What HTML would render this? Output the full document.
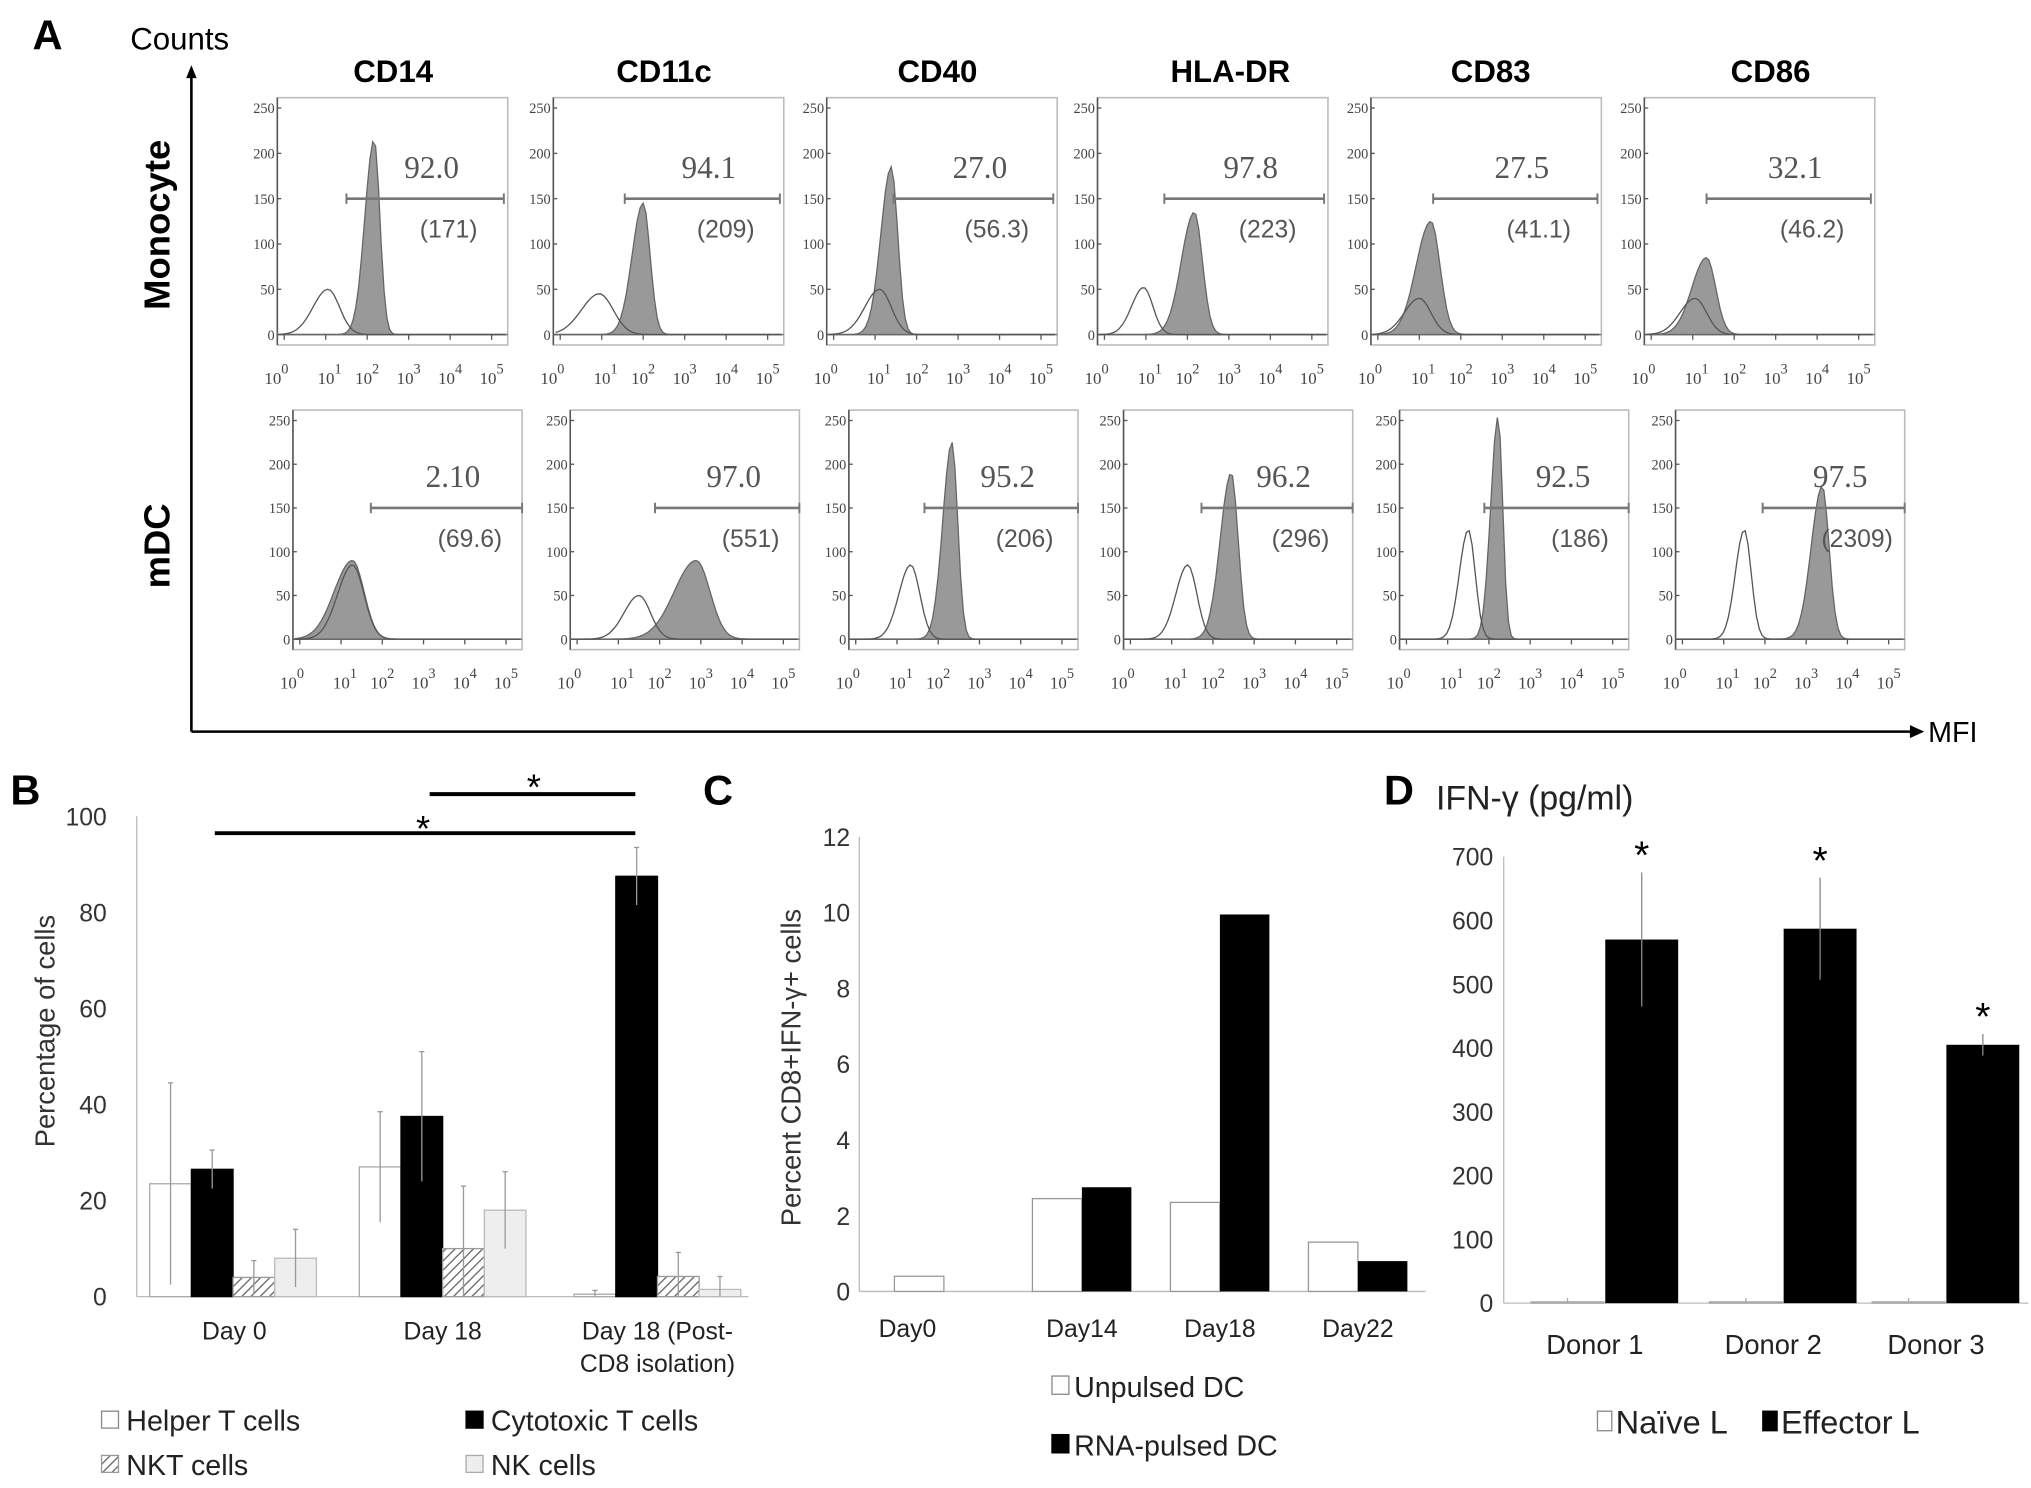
<!DOCTYPE html>
<html><head><meta charset="utf-8"><style>
html,body{margin:0;padding:0;background:#fff;}
svg{display:block;}
text{font-family:"Liberation Sans",sans-serif;}
.ser{font-family:"Liberation Serif",serif;}
</style></head><body>
<svg id="fig" xmlns="http://www.w3.org/2000/svg" width="2031" height="1488" viewBox="0 0 1560 1143" preserveAspectRatio="none">
<g id="pA">
<text x="25" y="38" font-size="32" font-weight="bold">A</text>
<text x="100" y="38" font-size="24">Counts</text>
<line x1="147" y1="562" x2="147" y2="58" stroke="#000" stroke-width="2"/>
<polygon points="147,50 143,60 151,60" fill="#000"/>
<line x1="147" y1="562" x2="1468" y2="562" stroke="#000" stroke-width="2"/>
<polygon points="1478,562 1467,557 1467,567" fill="#000"/>
<text x="1481" y="570" font-size="22">MFI</text>
<text x="0" y="0" font-size="28" font-weight="bold" transform="translate(130,238) rotate(-90)">Monocyte</text>
<text x="0" y="0" font-size="28" font-weight="bold" transform="translate(130,452) rotate(-90)">mDC</text>
</g>
<g id="pB"></g>
<g id="pC"></g>
<g id="pD"></g>
</svg>
<script>
const NS="http://www.w3.org/2000/svg";
// ---- Panel A data ----
const markers=["CD14","CD11c","CD40","HLA-DR","CD83","CD86"];
const pctRow1=["92.0","94.1","27.0","97.8","27.5","32.1"];
const mfiRow1=["(171)","(209)","(56.3)","(223)","(41.1)","(46.2)"];
const pctRow2=["2.10","97.0","95.2","96.2","92.5","97.5"];
const mfiRow2=["(69.6)","(551)","(206)","(296)","(186)","(2309)"];
// stained peak [position fraction, height counts, width]
const stainRow1=[[0.42,215,0.025],[0.39,145,0.03],[0.28,185,0.028],[0.42,135,0.035],[0.26,125,0.04],[0.27,85,0.04]];
const isoRow1=[[0.22,50,0.05],[0.2,45,0.06],[0.23,50,0.05],[0.2,52,0.04],[0.21,40,0.05],[0.22,40,0.05]];
const stainRow2=[[0.26,90,0.05],[0.55,90,0.06],[0.45,225,0.025],[0.47,190,0.03],[0.43,255,0.02],[0.64,175,0.03]];
const isoRow2=[[0.26,85,0.05],[0.3,50,0.05],[0.27,85,0.04],[0.28,85,0.04],[0.3,125,0.03],[0.3,125,0.03]];
const gateStartRow1=[0.30,0.31,0.29,0.29,0.27,0.27];
const gateStartRow2=[0.34,0.37,0.33,0.34,0.37,0.38];
const boxXRow1=[213,425,635,843,1053,1263];
const boxXRow2=[225,438,652,863,1075,1287];
const headerX=[302,510,720,945,1145,1360];
const yTicks=[0,50,100,150,200,250];
const decades=[0,1,2,3,4,5];

function el(tag,attrs,parent,txt){const e=document.createElementNS(NS,tag);for(const k in attrs)e.setAttribute(k,attrs[k]);if(txt!==undefined)e.textContent=txt;parent.appendChild(e);return e;}
const pA=document.getElementById('pA');
markers.forEach((m,i)=>{
 const t=el('text',{x:headerX[i],y:63,'font-size':24,'font-weight':'bold','text-anchor':'middle'},pA,m);
 
 
});
function histo(bx,by,bw,bh,idx,stain,iso,pct,mfi,gs,row){
 const g=el('g',{},pA);
 
 
 const y0=by+bh-8, ytop=by+8;
 const ys=c=>y0-(c/250)*(y0-ytop);
 const xs=f=>bx+f*bw;
 const b=el('rect',{x:bx,y:by,width:bw,height:bh,fill:'#fff',stroke:'#bbb','stroke-width':1.2},g);
 
 el('line',{x1:bx,y1:by,x2:bx,y2:by+bh,stroke:'#555','stroke-width':1.2},g);
 el('line',{x1:bx,y1:y0,x2:bx+bw,y2:y0,stroke:'#777','stroke-width':1.2},g);
 yTicks.forEach(v=>{const t=el('text',{x:bx-2,y:ys(v)+4,'font-size':11,'text-anchor':'end',fill:'#444',class:'ser'},g,String(v));
  
  el('line',{x1:bx,x2:bx+3,y1:ys(v),y2:ys(v),stroke:'#555'},g);});
 decades.forEach(d=>{const fx=xs(0.03+d*0.18);
  el('line',{x1:fx,x2:fx,y1:y0,y2:y0+4,stroke:'#555'},g);
  const t=el('text',{x:fx+(d==0?-6:d==1?3:0),y:by+bh+30,'font-size':13,'text-anchor':'middle',fill:'#444',class:'ser'},g);
  
  t.textContent='10';const s=el('tspan',{dy:-8,'font-size':11},t,String(d));});
 function path(p,skew){let d='';const n=80;for(let k=0;k<=n;k++){const f=k/n*0.98+0.01;let dx=(f-p[0]);let w=dx<0?p[2]*(skew?1.6:1.3):p[2];let c=p[1]*Math.exp(-dx*dx/(2*w*w));d+=(k?'L':'M')+xs(f).toFixed(1)+','+ys(c).toFixed(1);}return d;}
 const sp=el('path',{d:path(stain,true)+'L'+xs(0.99)+','+y0+'L'+xs(0.01)+','+y0+'Z',fill:'#999',stroke:'#666','stroke-width':1},g);
 
 const ip=el('path',{d:path(iso,false),fill:'none',stroke:'#555','stroke-width':1},g);
 
 const gy=ys(150), gx1=xs(gs), gx2=bx+bw-(row=='r1'?3:0);
 const gl=el('line',{x1:gx1,x2:gx2,y1:gy,y2:gy,stroke:'#777','stroke-width':2},g);
 
 el('line',{x1:gx1,x2:gx1,y1:gy-4,y2:gy+4,stroke:'#777','stroke-width':1.5},g);
 el('line',{x1:gx2,x2:gx2,y1:gy-4,y2:gy+4,stroke:'#777','stroke-width':1.5},g);
 const pt=el('text',{x:(gx1+gx2)/2+5,y:gy-16,'font-size':24,'text-anchor':'middle',fill:'#555',class:'ser'},g,pct);
 
 const mt=el('text',{x:(gx1+gx2)/2+18,y:gy+30,'font-size':19,'text-anchor':'middle',fill:'#555'},g,mfi);
 
}
for(let i=0;i<6;i++){
 histo(boxXRow1[i],75,177,190,i,stainRow1[i],isoRow1[i],pctRow1[i],mfiRow1[i],gateStartRow1[i],'r1');
 histo(boxXRow2[i],315,176,184,i,stainRow2[i],isoRow2[i],pctRow2[i],mfiRow2[i],gateStartRow2[i],'r2');
}

// ---- Panel B data ----
const bCategories=["Day 0","Day 18","Day 18 (Post-"];
const bSeries=["Helper T cells","Cytotoxic T cells","NKT cells","NK cells"];
const bHelper=[23.5,27,0.5];
const bCyto=[26.5,37.5,87.5];
const bNKT=[4,10,4.2];
const bNK=[8,18,1.5];
const bHelperErr=[21,11.5,0.8];
const bCytoErr=[4,13.5,6];
const bNKTErr=[3.5,13,5];
const bNKErr=[6,8,2.7];
const bTicks=[0,20,40,60,80,100];

// ---- Panel C data ----
const cCategories=["Day0","Day14","Day18","Day22"];
const cUnpulsed=[0.4,2.45,2.35,1.3];
const cPulsed=[0,2.75,9.95,0.8];
const cTicks=[0,2,4,6,8,10,12];

// ---- Panel D data ----
const dCategories=["Donor 1","Donor 2","Donor 3"];
const dNaive=[2,2,2];
const dEffector=[570,587,405];
const dNaiveErr=[6,6,6];
const dEffectorErr=[105,80,17];
const dTicks=[0,100,200,300,400,500,600,700];

// Panel B
(function(){
 const g=document.getElementById('pB');
 const yB=v=>996-v*3.69;
 const centers=[180,340,505];
 const lab=el('text',{x:8,y:618,'font-size':32,'font-weight':'bold'},g,'B');
 
 el('line',{x1:105,y1:yB(100),x2:105,y2:996,stroke:'#bbb'},g);
 el('line',{x1:105,y1:996,x2:575,y2:996,stroke:'#bbb'},g);
 bTicks.forEach(v=>{const t=el('text',{x:82,y:yB(v)+7,'font-size':19,'text-anchor':'end',fill:'#333'},g,String(v));
  });
 const yl=el('text',{x:0,y:0,'font-size':21,'text-anchor':'middle',transform:'translate(42,792) rotate(-90)',fill:'#333'},g,'Percentage of cells');
 
 el('defs',{},g).innerHTML='<pattern id="hatch" width="5" height="5" patternUnits="userSpaceOnUse" patternTransform="rotate(45)"><rect width="5" height="5" fill="#fff"/><line x1="0" y1="0" x2="0" y2="5" stroke="#666" stroke-width="2"/></pattern>';
 const vals=[bHelper,bCyto,bNKT,bNK], errs=[bHelperErr,bCytoErr,bNKTErr,bNKErr];
 const fills=['#fff','#000','url(#hatch)','#eee'], strokes=['#aaa','#000','#999','#bbb'];
 const bw=32;
 bCategories.forEach((c,ci)=>{
  for(let s=0;s<4;s++){
   const x=centers[ci]-2*bw+s*bw+(ci==0?-1:0);
   const v=vals[s][ci];
   const r=el('rect',{x:x,y:yB(v),width:bw,height:996-yB(v),fill:fills[s],stroke:strokes[s],'stroke-width':1},g);
   
   
   const e=errs[s][ci];
   el('line',{x1:x+bw/2,x2:x+bw/2,y1:yB(v+e),y2:yB(Math.max(0,v-e)),stroke:'#999','stroke-width':1},g);
   el('line',{x1:x+bw/2-2,x2:x+bw/2+2,y1:yB(v+e),y2:yB(v+e),stroke:'#999'},g);
  }
  const t=el('text',{x:centers[ci],y:1029,'font-size':19,'text-anchor':'middle',fill:'#222'},g,c);
  
 });
 const t2=el('text',{x:505,y:1054,'font-size':19,'text-anchor':'middle',fill:'#222'},g,'CD8 isolation)');
 
 el('line',{x1:165,x2:488,y1:640,y2:640,stroke:'#000','stroke-width':3},g);
 el('line',{x1:330,x2:488,y1:610,y2:610,stroke:'#000','stroke-width':3},g);
 el('text',{x:325,y:646,'font-size':28,'text-anchor':'middle'},g,'*');
 el('text',{x:410,y:614,'font-size':28,'text-anchor':'middle'},g,'*');
 const leg=[[78,1097,'#fff','#888',bSeries[0]],[358,1097,'#000','#000',bSeries[1]],[78,1131,'url(#hatch)','#999',bSeries[2]],[358,1131,'#eee','#aaa',bSeries[3]]];
 leg.forEach(L=>{const r=el('rect',{x:L[0],y:L[1]-13,width:13,height:13,fill:L[2],stroke:L[3]},g);
  
  const t=el('text',{x:L[0]+19,y:L[1]+2,'font-size':22,fill:'#222'},g,L[4]);
  });
})();

// Panel C
(function(){
 const g=document.getElementById('pC');
 const yC=v=>992-v*29.1;
 const centers=[725,831,937,1043];
 const lab=el('text',{x:540,y:618,'font-size':32,'font-weight':'bold'},g,'C');
 
 el('line',{x1:660,y1:yC(12),x2:660,y2:992,stroke:'#bbb'},g);
 el('line',{x1:660,y1:992,x2:1095,y2:992,stroke:'#bbb'},g);
 cTicks.forEach(v=>{const t=el('text',{x:653,y:yC(v)+7,'font-size':19,'text-anchor':'end',fill:'#333'},g,String(v));
  });
 const yl=el('text',{x:0,y:0,'font-size':21,'text-anchor':'middle',transform:'translate(615,820) rotate(-90)',fill:'#333'},g,'Percent CD8+IFN-γ+ cells');
 
 const bw=38;
 cCategories.forEach((c,ci)=>{
  const r1=el('rect',{x:centers[ci]-bw,y:yC(cUnpulsed[ci]),width:bw,height:992-yC(cUnpulsed[ci]),fill:'#fff',stroke:'#999'},g);
  
  const r2=el('rect',{x:centers[ci],y:yC(cPulsed[ci]),width:bw,height:992-yC(cPulsed[ci]),fill:'#000'},g);
  
  const t=el('text',{x:centers[ci]-(ci==0?28:0),y:1027,'font-size':19,'text-anchor':'middle',fill:'#222'},g,c);
  
 });
 [[808,1071,'#fff','#888','Unpulsed DC'],[808,1116,'#000','#000','RNA-pulsed DC']].forEach(L=>{
  const r=el('rect',{x:L[0],y:L[1]-14,width:13,height:14,fill:L[2],stroke:L[3]},g);
  
  const t=el('text',{x:L[0]+17,y:L[1]+2,'font-size':22,fill:'#222'},g,L[4]);
  });
})();

// Panel D
(function(){
 const g=document.getElementById('pD');
 const yD=v=>1001-v*0.49;
 const centers=[1232,1369,1494];
 const lab=el('text',{x:1063,y:618,'font-size':32,'font-weight':'bold'},g,'D');
 
 const tt=el('text',{x:1103,y:622,'font-size':26,fill:'#222'},g,'IFN-γ (pg/ml)');
 
 el('line',{x1:1155,y1:yD(700),x2:1155,y2:1001,stroke:'#bbb'},g);
 el('line',{x1:1155,y1:1001,x2:1558,y2:1001,stroke:'#bbb'},g);
 dTicks.forEach(v=>{const t=el('text',{x:1147,y:yD(v)+7,'font-size':19,'text-anchor':'end',fill:'#333'},g,String(v));
  });
 const bw=56;
 dCategories.forEach((c,ci)=>{
  const x0=centers[ci]-bw;
  const r1=el('rect',{x:x0,y:yD(dNaive[ci]),width:bw,height:1001-yD(dNaive[ci]),fill:'#fff',stroke:'#aaa'},g);
  
  el('line',{x1:x0+bw/2,x2:x0+bw/2,y1:yD(dNaive[ci]+dNaiveErr[ci]),y2:yD(dNaive[ci]),stroke:'#aaa'},g);
  const v=dEffector[ci],e=dEffectorErr[ci],x1=centers[ci]+1;
  const r2=el('rect',{x:x1,y:yD(v),width:bw,height:1001-yD(v),fill:'#000'},g);
  
  el('line',{x1:x1+bw/2,x2:x1+bw/2,y1:yD(v+e),y2:yD(v-e),stroke:'#888'},g);
  const s=el('text',{x:x1+bw/2,y:yD(v+e)-3,'font-size':30,'text-anchor':'middle'},g,'*');
  
  const t=el('text',{x:centers[ci]-7,y:1040,'font-size':21,'text-anchor':'middle',fill:'#222'},g,c);
  
 });
 [[1227,1099,'#fff','#888','Naïve L'],[1354,1099,'#000','#000','Effector L']].forEach(L=>{
  const r=el('rect',{x:L[0],y:L[1]-15,width:11,height:15,fill:L[2],stroke:L[3]},g);
  
  const t=el('text',{x:L[0]+14,y:L[1]+2,'font-size':25,fill:'#222'},g,L[4]);
  });
})();
</script>
</body></html>
